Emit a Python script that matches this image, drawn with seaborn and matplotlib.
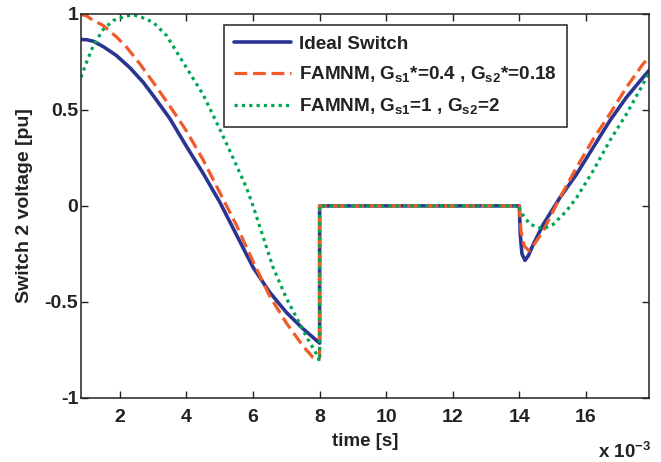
import matplotlib
matplotlib.use("Agg")
import matplotlib.pyplot as plt
import seaborn as sns
import pandas as pd

# ---- data (time in ms, voltage in pu) ----
t_ideal = [0.83, 1.0, 1.2, 1.5, 1.9, 2.3, 2.7, 3.0, 3.5, 4.0, 4.5, 5.0, 5.5, 6.0, 6.5, 7.0, 7.5, 8.0,
           8.0, 11.0, 14.0, 14.03, 14.08, 14.17, 14.27, 14.42, 14.72, 15.22, 15.72, 16.22, 16.72, 17.22, 17.72, 17.92]
v_ideal = [0.867, 0.866, 0.858, 0.83, 0.783, 0.72, 0.644, 0.575, 0.455, 0.31, 0.17, 0.02, -0.15, -0.32, -0.45, -0.555, -0.64, -0.715,
           0.0, 0.0, 0.0, -0.15, -0.25, -0.284, -0.26, -0.2, -0.096, 0.043, 0.165, 0.305, 0.444, 0.566, 0.67, 0.71]

t_famnm1 = [0.83, 1.0, 1.2, 1.5, 1.9, 2.2, 2.6, 3.0, 3.5, 4.0, 4.5, 5.0, 5.5, 6.0, 6.5, 7.0, 7.5, 7.8, 7.95, 8.0,
            8.0, 11.0, 14.0, 14.05, 14.15, 14.3, 14.45, 14.72, 15.22, 15.72, 16.22, 16.72, 17.22, 17.72, 17.92]
v_famnm1 = [0.998, 0.99, 0.966, 0.94, 0.88, 0.827, 0.74, 0.644, 0.52, 0.39, 0.24, 0.07, -0.1, -0.29, -0.47, -0.61, -0.73, -0.79, -0.8, -0.79,
            0.0, 0.0, 0.0, -0.13, -0.21, -0.235, -0.2, -0.13, 0.043, 0.2, 0.348, 0.479, 0.618, 0.74, 0.78]

t_famnm2 = [0.83, 1.0, 1.2, 1.5, 1.8, 2.2, 2.4, 2.6, 3.0, 3.4, 3.75, 4.0, 4.5, 5.0, 5.4, 5.8, 6.0, 6.3, 6.6, 7.0, 7.3, 7.6, 7.9, 8.0,
            8.0, 11.0, 14.0, 14.02, 14.32, 14.72, 15.02, 15.42, 15.72, 16.22, 16.72, 17.22, 17.72, 17.92]
v_famnm2 = [0.67, 0.75, 0.835, 0.92, 0.966, 0.99, 0.995, 0.987, 0.957, 0.888, 0.79, 0.72, 0.58, 0.40, 0.25, 0.096, 0.0, -0.16, -0.32, -0.48, -0.58, -0.68, -0.77, -0.81,
            0.0, 0.0, 0.0, -0.026, -0.096, -0.12, -0.096, -0.026, 0.043, 0.183, 0.34, 0.479, 0.635, 0.705]

labels = ["Ideal Switch",
          r"FAMNM, G$_{\mathbf{s1}}$*=0.4 , G$_{\mathbf{s2}}$*=0.18",
          r"FAMNM, G$_{\mathbf{s1}}$=1 , G$_{\mathbf{s2}}$=2"]
x_ticks = [2, 4, 6, 8, 10, 12, 14, 16]
y_ticks = [-1, -0.5, 0, 0.5, 1]
y_ticklabels = ["-1", "-0.5", "0", "0.5", "1"]

sns.set_style("ticks")
plt.rcParams['font.family'] = ['Liberation Sans', 'DejaVu Sans']
plt.rcParams['font.weight'] = 'bold'
plt.rcParams['mathtext.fontset'] = 'custom'
plt.rcParams['mathtext.bf'] = 'Liberation Sans:bold'
plt.rcParams['mathtext.rm'] = 'Liberation Sans:bold'
plt.rcParams['mathtext.default'] = 'bf'

fig = plt.figure(figsize=(6.61, 4.62), dpi=100)
ax = fig.add_axes([0.1225, 0.139, 0.8595, 0.8307])

c_blue = "#2a3592"
c_red = "#f15a29"
c_green = "#00a651"

sns.lineplot(x=t_ideal, y=v_ideal, ax=ax, estimator=None, sort=False, color=c_blue,
             lw=2.6, label=labels[0])
sns.lineplot(x=t_famnm1, y=v_famnm1, ax=ax, estimator=None, sort=False, color=c_red,
             lw=2.3, label=labels[1])
ax.lines[-1].set_dashes((4, 1.8))
sns.lineplot(x=t_famnm2, y=v_famnm2, ax=ax, estimator=None, sort=False, color=c_green,
             lw=2.3, label=labels[2])
ax.lines[-1].set_dashes((1, 1.3))

ax.set_xlim(0.83, 17.9)
ax.set_ylim(-1, 1)
ax.set_xticks(x_ticks)
ax.set_xticklabels([str(v) for v in x_ticks])
ax.set_yticks(y_ticks)
ax.set_yticklabels(y_ticklabels)
ax.tick_params(direction='in', length=5, width=1, top=True, right=True,
               labelsize=14, colors='#222222')
ax.tick_params(axis='x', pad=8)
ax.tick_params(axis='y', pad=2)
for s in ax.spines.values():
    s.set_linewidth(1.1)
    s.set_color('#222222')

ax.set_xlabel("time [s]", fontsize=13.5, fontweight='bold', labelpad=5, color='#222222')
ax.set_ylabel("Switch 2 voltage [pu]", fontsize=14, fontweight='bold', labelpad=8, color='#222222')
fig.text(0.905, 0.008, r"x 10$^{\mathbf{-3}}$", fontsize=13.5, fontweight='bold', color='#222222')

leg = ax.legend(loc='upper left', bbox_to_anchor=(0.2516, 0.971), fontsize=13.6,
                frameon=True, fancybox=False, edgecolor='#222222', framealpha=1,
                handlelength=3.0, borderpad=0.55, labelspacing=0.62, handletextpad=0.4,
                borderaxespad=0)
leg.get_frame().set_linewidth(1.1)
for txt in leg.get_texts():
    txt.set_color('#222222')

fig.savefig("out.png", dpi=100)
